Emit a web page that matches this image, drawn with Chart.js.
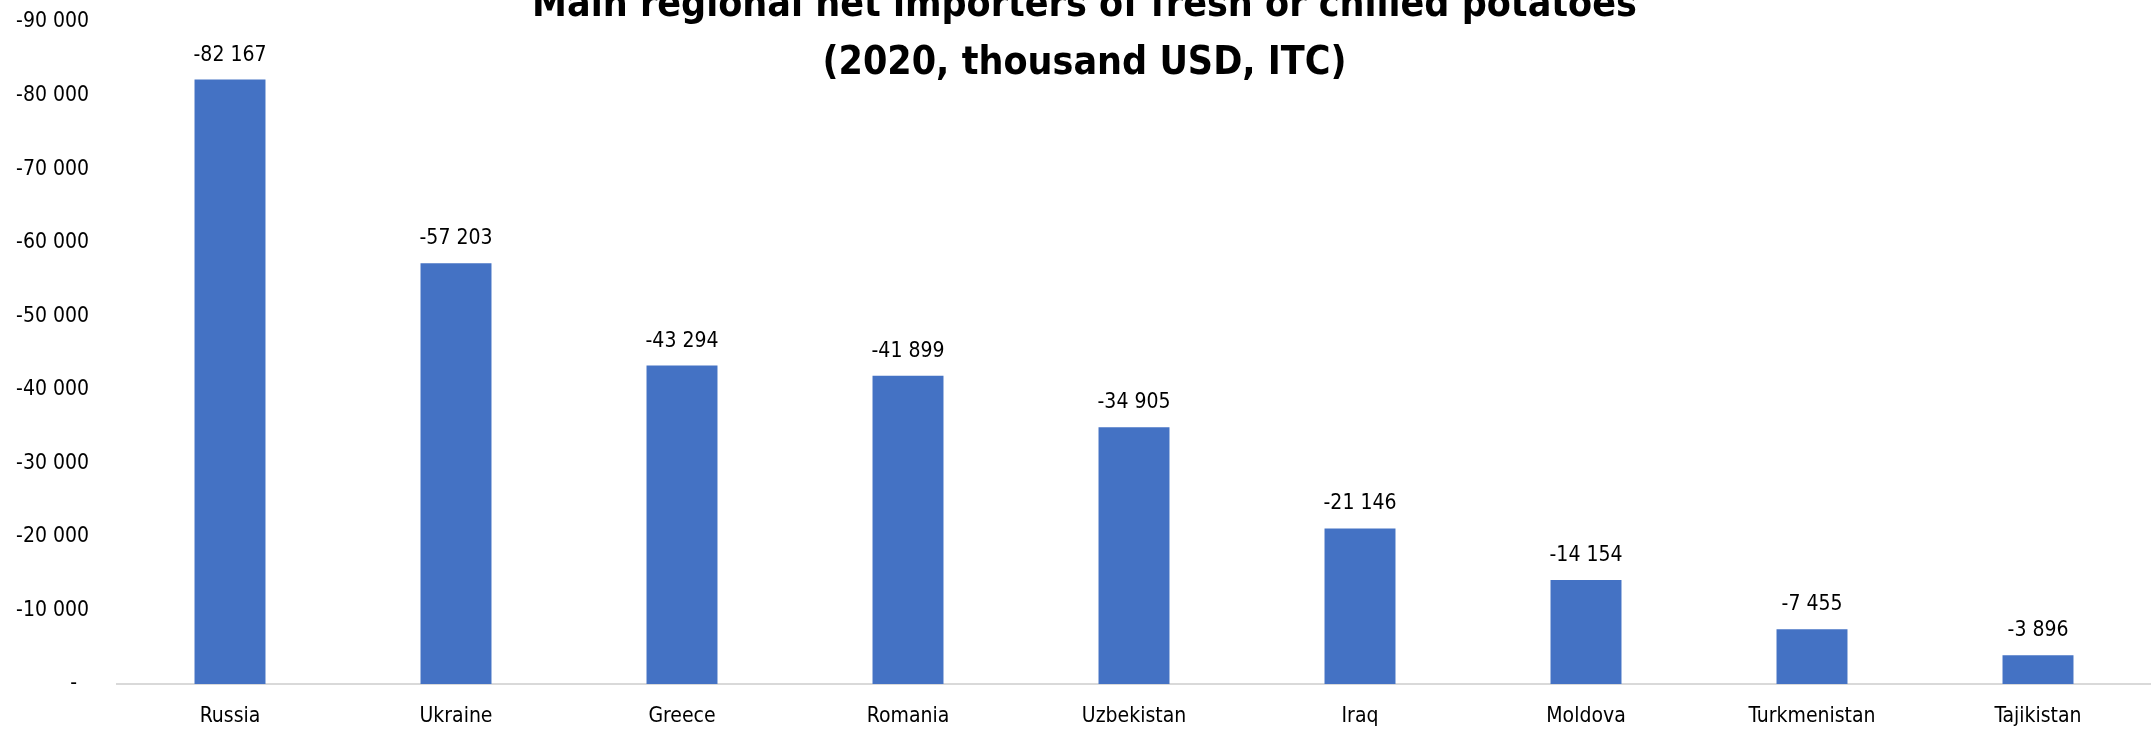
<!DOCTYPE html>
<html>
<head>
<meta charset="utf-8">
<script src="https://cdn.jsdelivr.net/npm/chart.js@4.4.0/dist/chart.umd.min.js"></script>
<style>
  html, body { margin: 0; padding: 0; background: #fff; overflow: hidden; }
  #wrap { width: 2151px; height: 729px; position: relative; }
</style>
</head>
<body>
<div id="wrap"><canvas id="importersChart"></canvas></div>
<script>
// Net imports, fresh or chilled potatoes (2020, thousand USD)
const countries = ['Russia', 'Ukraine', 'Greece', 'Romania', 'Uzbekistan', 'Iraq', 'Moldova', 'Turkmenistan', 'Tajikistan'];
const netImports = [-82167, -57203, -43294, -41899, -34905, -21146, -14154, -7455, -3896];
const titleLines = ['Main regional net importers of fresh or chilled potatoes', '(2020, thousand USD, ITC)'];
const axisMin = -90000;
const axisMax = 0;
const axisStep = 10000;

const FONT = "'Liberation Sans Narrow', 'DejaVu Sans Condensed', Lato, sans-serif";

Chart.defaults.color = '#000';
Chart.defaults.font.family = FONT;

function fmt(v) {
  const s = Math.abs(Math.round(v)).toString().replace(/\B(?=(\d{3})+(?!\d))/g, ' ');
  return (v < 0 ? '-' : '') + s;
}

// value labels above each bar
const barLabels = {
  id: 'barLabels',
  afterDatasetsDraw(chart) {
    const ctx = chart.ctx;
    const meta = chart.getDatasetMeta(0);
    ctx.save();
    ctx.font = '21px ' + FONT;
    ctx.fillStyle = '#000';
    ctx.textAlign = 'center';
    ctx.textBaseline = 'alphabetic';
    meta.data.forEach((bar, i) => {
      ctx.fillText(fmt(netImports[i]), bar.x, bar.y - 19);
    });
    ctx.restore();
  }
};

// overlay title (sits inside the plot, top line clipped like the original)
const overlayTitle = {
  id: 'overlayTitle',
  afterDraw(chart) {
    const ctx = chart.ctx;
    ctx.save();
    ctx.font = 'bold 39px ' + FONT;
    ctx.fillStyle = '#000';
    ctx.textAlign = 'center';
    ctx.textBaseline = 'alphabetic';
    const cx = chart.width / 2 + 9;
    ctx.fillText(titleLines[0], cx, 16);
    ctx.fillText(titleLines[1], cx, 74);
    ctx.restore();
  }
};

const ctx = document.getElementById('importersChart');
new Chart(ctx, {
  type: 'bar',
  data: {
    labels: countries,
    datasets: [{
      data: netImports,
      backgroundColor: '#4472C4',
      borderWidth: 0,
      categoryPercentage: 1,
      barPercentage: 0.314
    }]
  },
  options: {
    responsive: true,
    maintainAspectRatio: false,
    animation: false,
    layout: { padding: { top: 22, right: 0, bottom: 0, left: 0 } },
    plugins: {
      legend: { display: false },
      title: { display: false },
      tooltip: { enabled: false }
    },
    scales: {
      x: {
        grid: { display: false, drawTicks: false },
        border: { display: true, color: '#d9d9d9', width: 2 },
        ticks: { font: { size: 21 }, padding: 20, maxRotation: 0, autoSkip: false },
        afterFit(scale) { scale.height = 45; }
      },
      y: {
        reverse: true,
        min: axisMin,
        max: axisMax,
        grid: { display: false, drawTicks: false },
        border: { display: false },
        ticks: {
          stepSize: axisStep,
          font: { size: 21 },
          padding: 28,
          callback: v => v === 0 ? '-  ' : fmt(v)
        },
        afterFit(scale) {
          scale.width = 117;
          scale.paddingTop = 0;
          scale.paddingBottom = 0;
        }
      }
    }
  },
  plugins: [barLabels, overlayTitle]
});
</script>
</body>
</html>
